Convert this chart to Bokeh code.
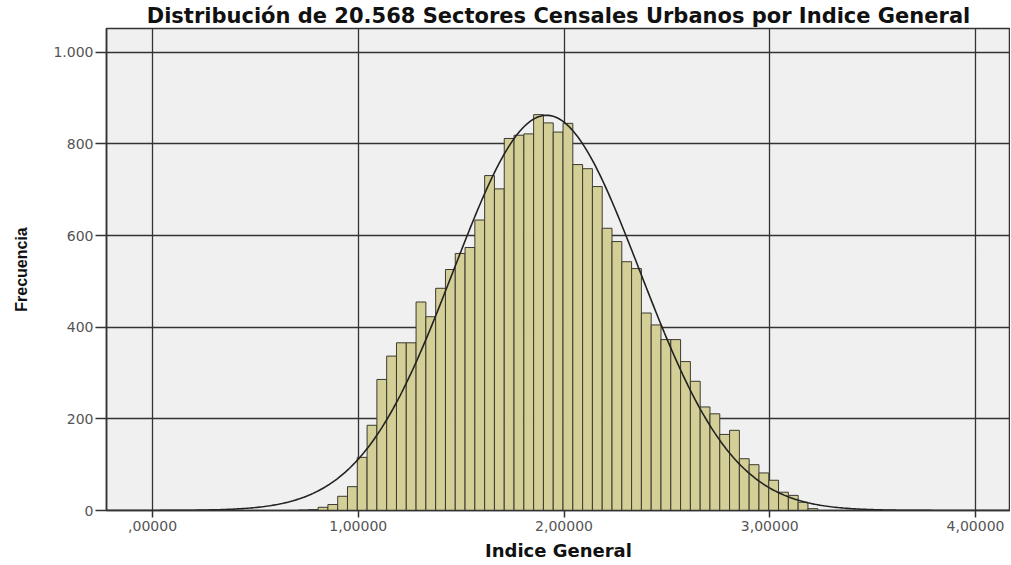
import numpy as np
from bokeh.plotting import figure
from bokeh.models import FixedTicker, Range1d
from bokeh.embed import file_html
from bokeh.resources import INLINE

# ---- data ----
title_text = "Distribución de 20.568 Sectores Censales Urbanos por Indice General"
n_total = 20568
bin_width = 1.0 / 21
first_bin_left = 0.995 - 6 * bin_width
counts = [1, 2, 7, 13, 31, 52,
          116, 186, 286, 337, 366, 366, 455, 423, 485,
          526, 561, 574, 634, 731, 702, 812, 819, 822, 864, 846, 826,
          845, 755, 746, 707, 616, 587, 543, 528, 431, 405, 373, 373, 325, 282,
          226, 211, 166, 175, 113, 100, 82, 66, 40, 33, 18, 4]
fit_mean = 1.915
fit_sd = 0.453
x_ticks = [0, 1, 2, 3, 4]
x_tick_labels = [",00000", "1,00000", "2,00000", "3,00000", "4,00000"]
y_ticks = [0, 200, 400, 600, 800, 1000]
y_tick_labels = ["0", "200", "400", "600", "800", "1.000"]

lefts = [first_bin_left + i * bin_width for i in range(len(counts))]
rights = [l + bin_width for l in lefts]

p = figure(frame_width=904, frame_height=482, output_backend="svg", toolbar_location=None,
           x_range=Range1d(-0.224, 4.17), y_range=Range1d(0, 1052),
           min_border_left=106, min_border_right=0, min_border_top=28, min_border_bottom=10)
p.background_fill_color = "#f0f0f0"
p.border_fill_color = "white"
p.outline_line_color = "#333333"
p.outline_line_width = 1.5

p.title.text = title_text
p.title.text_font = "DejaVu Sans"
p.title.text_font_size = "21px"
p.title.text_font_style = "bold"
p.title.text_color = "#111111"
p.title.align = "center"
p.title.offset = 0
p.title.standoff = 2

p.quad(left=lefts, right=rights, bottom=0, top=counts,
       fill_color="#d4cf97", line_color="#3b3a30", line_width=1)

xs = np.linspace(-0.224, 4.17, 500)
ys = n_total * bin_width * np.exp(-0.5 * ((xs - fit_mean) / fit_sd) ** 2) / (fit_sd * np.sqrt(2 * np.pi))
p.line(xs, ys, line_color="#222222", line_width=1.6)

for g in (p.xgrid, p.ygrid):
    g.grid_line_color = "#333333"
    g.grid_line_width = 1.3
p.xgrid.ticker = FixedTicker(ticks=x_ticks)
p.ygrid.ticker = FixedTicker(ticks=y_ticks)
p.xgrid.level = "underlay"
p.ygrid.level = "underlay"

p.xaxis.ticker = FixedTicker(ticks=x_ticks)
p.xaxis.major_label_overrides = dict(zip(x_ticks, x_tick_labels))
p.yaxis.ticker = FixedTicker(ticks=y_ticks)
p.yaxis.major_label_overrides = dict(zip(y_ticks, y_tick_labels))

for ax in (p.xaxis, p.yaxis):
    ax.axis_line_color = "#333333"
    ax.axis_line_width = 1.5
    ax.major_tick_line_color = "#333333"
    ax.major_tick_line_width = 1.5
    ax.major_tick_in = 0
    ax.minor_tick_line_color = None
    ax.major_label_text_font = "DejaVu Sans"
    ax.major_label_text_font_size = "14px"
    ax.major_label_text_color = "#555555"
    ax.axis_label_text_font_style = "bold"
    ax.axis_label_text_color = "#111111"

p.xaxis.major_tick_out = 7
p.yaxis.major_tick_out = 11

p.xaxis.axis_label = "Indice General"
p.xaxis.axis_label_text_font = "DejaVu Sans"
p.xaxis.axis_label_text_font_size = "18px"
p.xaxis.axis_label_standoff = 6
p.xaxis.major_label_standoff = 3

p.yaxis.axis_label = "Frecuencia"
p.yaxis.axis_label_text_font = "Liberation Sans"
p.yaxis.axis_label_text_font_size = "16px"
p.yaxis.axis_label_standoff = 20
p.yaxis.major_label_standoff = 2

open("out.html", "w").write(file_html(p, INLINE))
